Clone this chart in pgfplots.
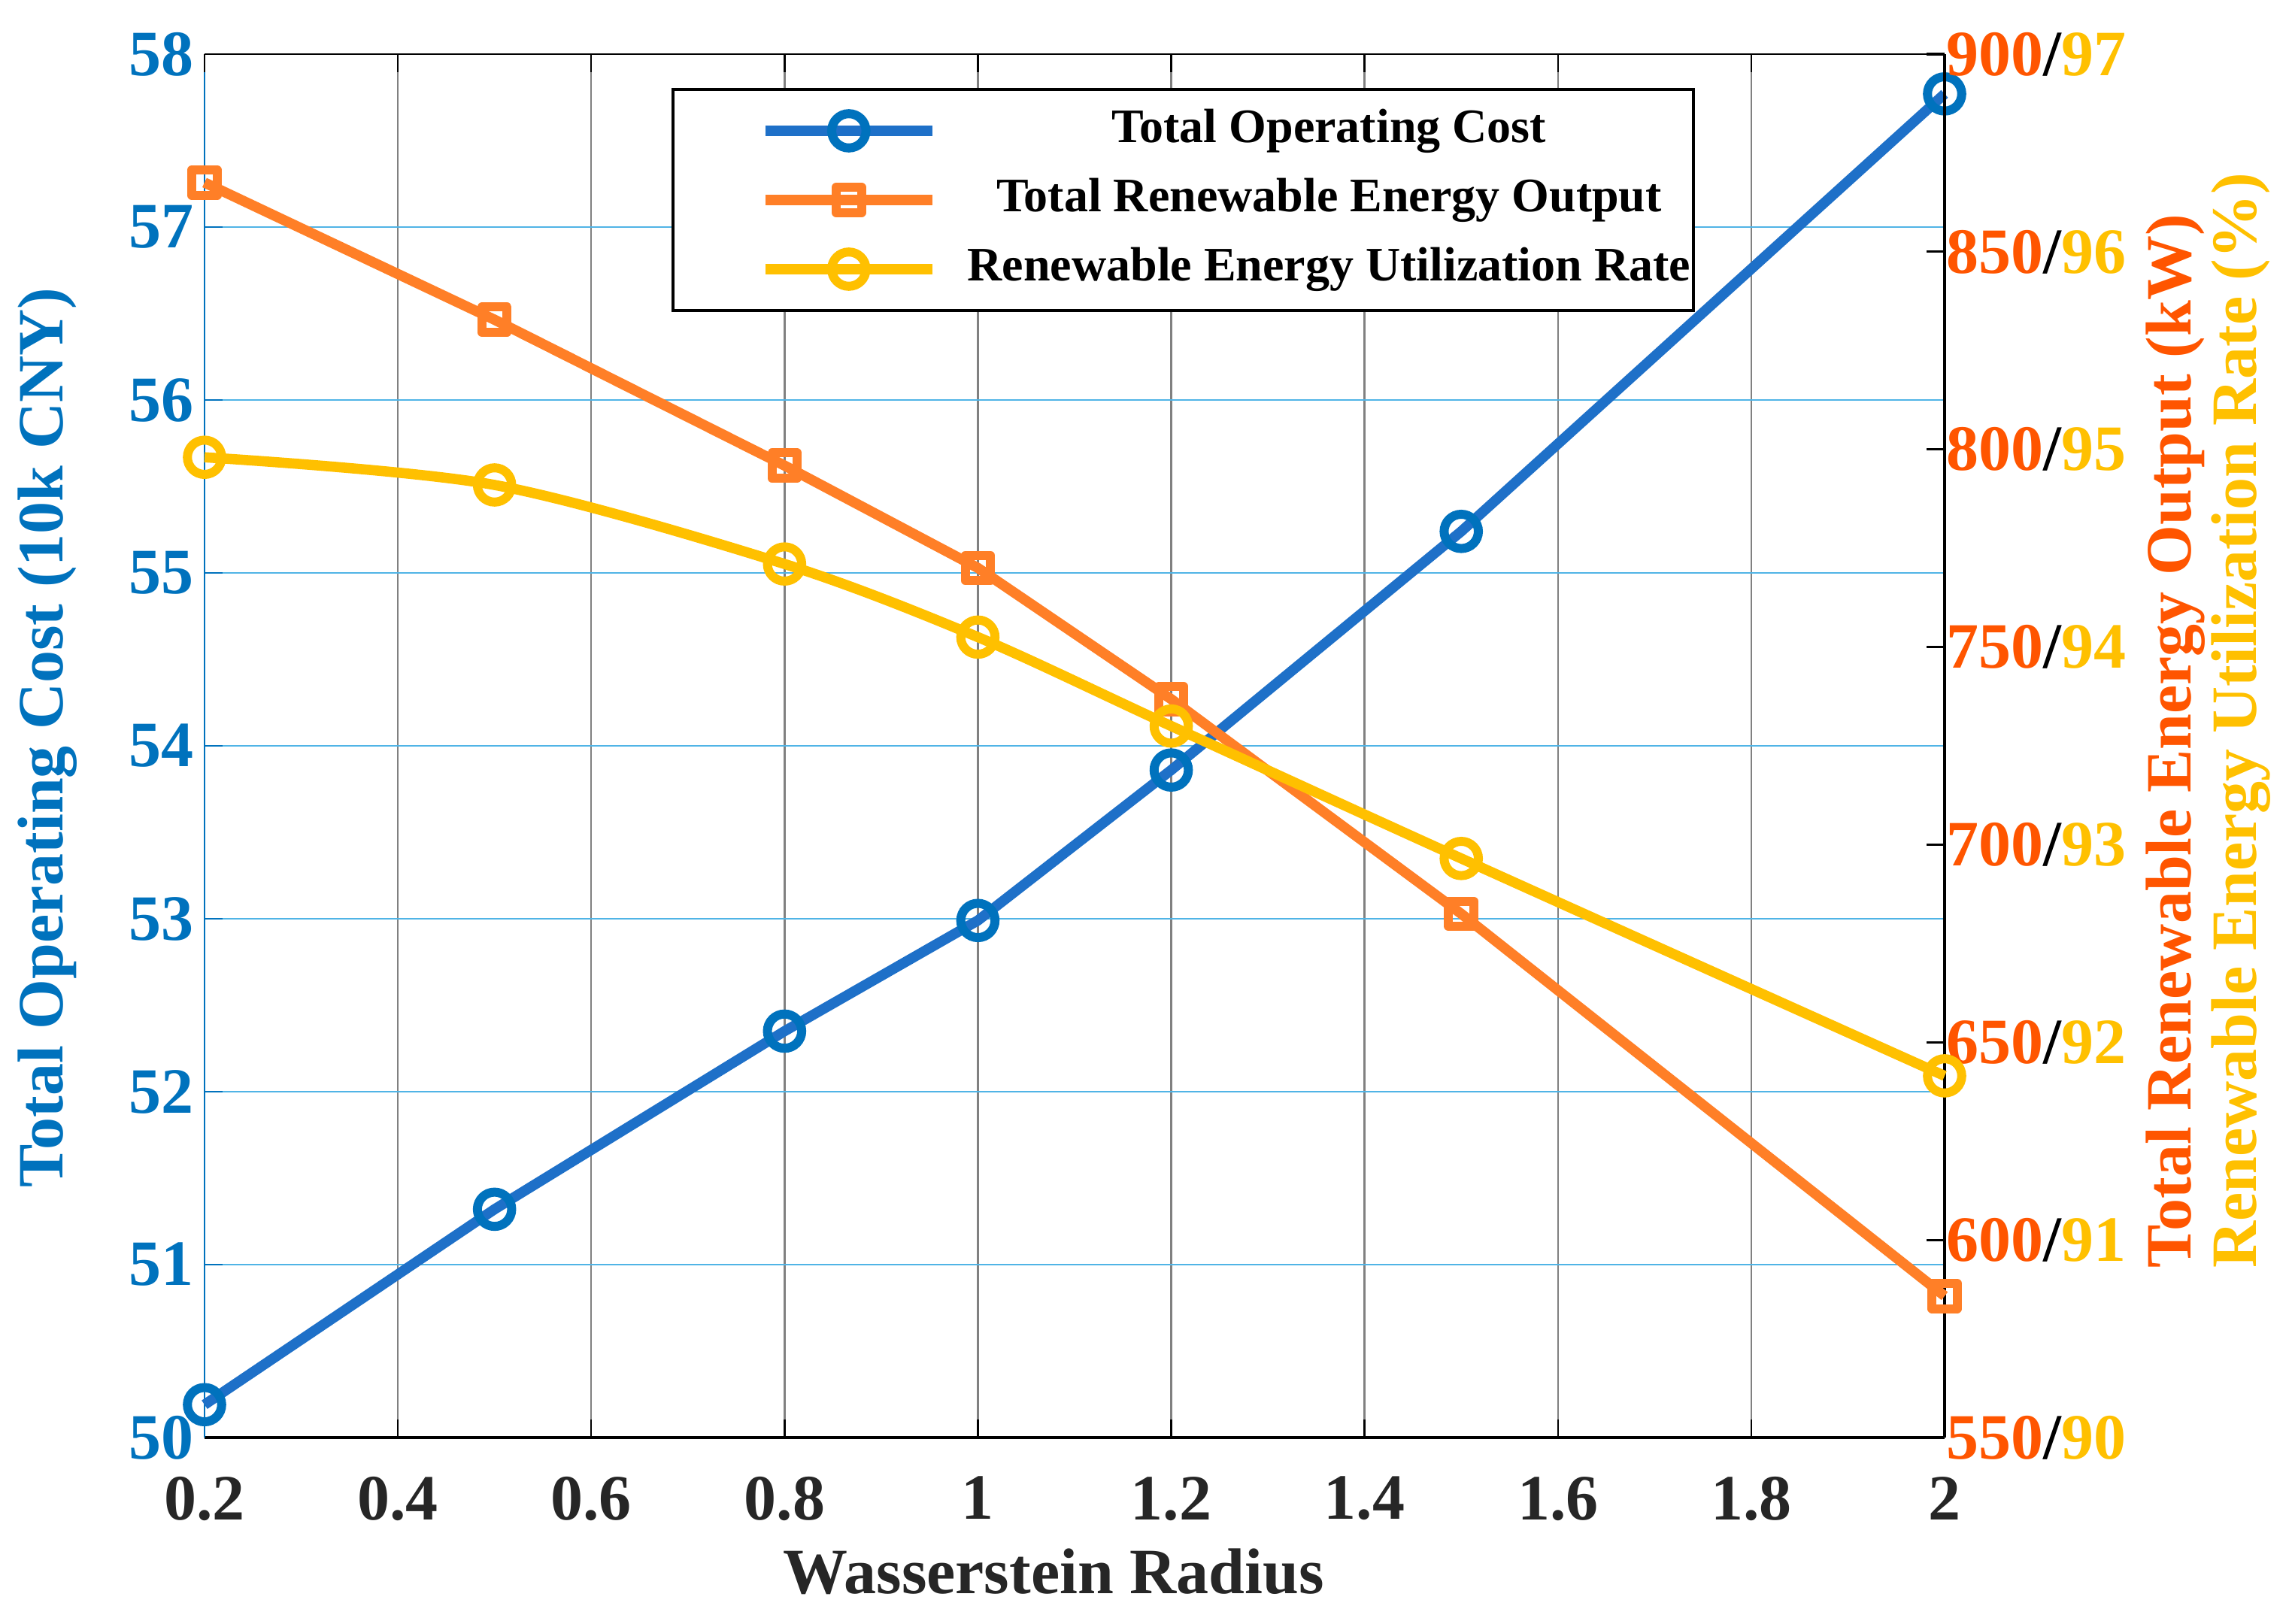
\documentclass[border=0pt]{standalone}
\usepackage{fontspec}
\setmainfont{Liberation Serif}
\usepackage{pgfplots}
\pgfplotsset{compat=1.18}
\definecolor{cblue}{RGB}{0,114,189}
\definecolor{cblueline}{RGB}{30,112,200}
\definecolor{corange}{RGB}{255,127,39}
\definecolor{cored}{RGB}{255,85,0}
\definecolor{cyellow}{RGB}{255,192,0}
\definecolor{gridgray}{RGB}{128,128,128}
\definecolor{gridblue}{RGB}{80,180,230}
\newcommand{\tfont}{\fontsize{21.5}{24}\selectfont\bfseries}
\newcommand{\lfont}{\fontsize{16}{19}\selectfont\bfseries}
\pgfplotsset{
  common/.style={
    at={(0,0)}, anchor=south west, scale only axis,
    width=578.5pt, height=460pt,
    xmin=0.2, xmax=2,
    xtick={0.2,0.4,0.6,0.8,1,1.2,1.4,1.6,1.8,2},
    tick align=inside, major tick length=6pt,
    /pgf/number format/assume math mode=true,
    ticklabel style={font=\tfont},
    label style={font=\tfont},
    clip=false,
    legend image code/.code={
      \path (-28pt,0pt);
      \draw[mark repeat=2,mark phase=2,##1] plot coordinates {(0pt,0pt) (27.75pt,0pt) (55.5pt,0pt)};
    },
  },
  bluestyle/.style={color=cblueline, line width=3.4pt, mark=o, mark size=5.7pt,
    mark options={draw=cblue, solid, line width=3pt}},
  orangestyle/.style={color=corange, line width=3.4pt, mark=square, mark size=4.2pt,
    mark options={solid, line width=3pt, line join=round}},
  yellowstyle/.style={color=cyellow, line width=3.4pt, mark=o, mark size=5.7pt,
    mark options={solid, line width=3pt}},
}
\begin{document}
\begin{tikzpicture}
\useasboundingbox (-68pt,-62pt) rectangle (693pt,478pt);
% left axis: total operating cost
\begin{axis}[common,
  ymin=50, ymax=58, ytick={50,51,...,58},
  axis x line*=bottom, axis y line*=left,
  x axis line style={black, line width=1.2pt},
  y axis line style={cblue, line width=0.6pt},
  ytick style={cblue, line width=0.6pt},
  xtick style={black, line width=0.6pt},
  yticklabel style={text=cblue},
  xticklabel style={text=black!85, yshift=-9.5pt},
  xmajorgrids, ymajorgrids,
  x grid style={gridgray, line width=0.6pt},
  y grid style={gridblue, line width=0.6pt},
  xlabel={Wasserstein Radius},
  xlabel style={at={(axis description cs:0.5,0)}, anchor=base, yshift=-52pt, xshift=-7pt, text=black!85},
]
\addplot[bluestyle] coordinates {
  (0.2,50.19) (0.5,51.32) (0.8,52.35) (1.0,52.99) (1.2,53.86) (1.5,55.24) (2.0,57.77)
};
\end{axis}
% right axis: total renewable energy output
\begin{axis}[common,
  ymin=550, ymax=900, ytick={550,600,...,900},
  yticklabels={
    {\textcolor{cored}{550}/\textcolor{cyellow}{90}},
    {\textcolor{cored}{600}/\textcolor{cyellow}{91}},
    {\textcolor{cored}{650}/\textcolor{cyellow}{92}},
    {\textcolor{cored}{700}/\textcolor{cyellow}{93}},
    {\textcolor{cored}{750}/\textcolor{cyellow}{94}},
    {\textcolor{cored}{800}/\textcolor{cyellow}{95}},
    {\textcolor{cored}{850}/\textcolor{cyellow}{96}},
    {\textcolor{cored}{900}/\textcolor{cyellow}{97}}},
  axis x line*=top, axis y line*=right,
  xticklabels={},
  x axis line style={black, line width=0.6pt},
  y axis line style={black, line width=0.8pt},
  ytick style={black, line width=0.8pt},
  xtick style={black, line width=0.6pt},
  yticklabel style={xshift=-3pt},
]
\addplot[orangestyle] coordinates {
  (0.2,867.5) (0.5,832.8) (0.8,795.9) (1.0,770.0) (1.2,736.8) (1.5,682.5) (2.0,585.8)
};
\end{axis}
% hidden axis: utilization rate + legend
\begin{axis}[common,
  ymin=90, ymax=97, hide axis,
  legend cell align=center,
  legend style={at={(axis description cs:0.26837,0.97554)}, anchor=north west,
    draw=black, line width=1pt, fill=white, font=\lfont,
    inner xsep=1pt, inner ysep=5.75pt, row sep=7pt, column sep=10pt,
    nodes={inner xsep=0pt, inner ysep=0pt, text height=12pt, text depth=4pt}},
]
\addlegendimage{bluestyle}
\addlegendentry{Total Operating Cost}
\addlegendimage{orangestyle}
\addlegendentry{Total Renewable Energy Output}
\addplot[yellowstyle, smooth] coordinates {
  (0.2,94.96) (0.5,94.82) (0.8,94.42) (1.0,94.05) (1.2,93.60) (1.5,92.93) (2.0,91.83)
};
\addlegendentry{Renewable Energy Utilization Rate}
\end{axis}
\node[rotate=90, font=\tfont, text=cblue, anchor=center] at (-52.25pt,232.75pt) {Total Operating Cost (10k CNY)};
\node[rotate=90, font=\tfont, text=cored, anchor=west] at (655.25pt,52.75pt) {Total Renewable Energy Output (kW)};
\node[rotate=90, font=\tfont, text=cyellow, anchor=west] at (677pt,52.75pt) {Renewable Energy Utilization Rate (\%)};
\end{tikzpicture}
\end{document}
